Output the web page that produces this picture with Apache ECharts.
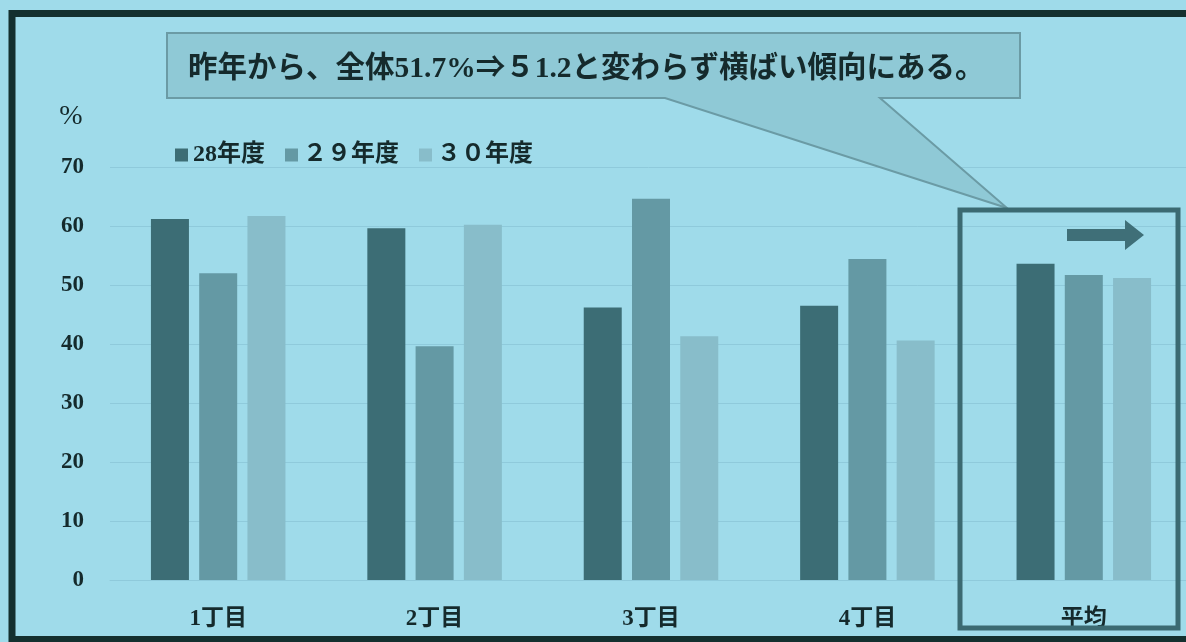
<!DOCTYPE html>
<html>
<head>
<meta charset="utf-8">
<script src="https://cdn.jsdelivr.net/npm/echarts@6/dist/echarts.min.js"></script>
<style>
html,body{margin:0;padding:0;background:#9fdbea;}
#chart{width:1186px;height:642px;}
</style>
</head>
<body>
<div id="chart"></div>
<script>
const categories = ['1丁目', '2丁目', '3丁目', '4丁目', '平均'];
const seriesNames = ['28年度', '２９年度', '３０年度'];
const values28 = [61.2, 59.6, 46.2, 46.5, 53.6];
const values29 = [52.0, 39.6, 64.6, 54.4, 51.7];
const values30 = [61.7, 60.2, 41.3, 40.6, 51.2];
const yTicks = { min: 0, max: 70, interval: 10 };
const calloutText = '昨年から、全体51.7%⇒５1.2と変わらず横ばい傾向にある。';

const FONT = "'Liberation Serif', 'Noto Sans CJK JP', serif";
const TXT = '#152a2c';
const colors = ['#3c6d75', '#6499a4', '#88bdca'];

const chart = echarts.init(document.getElementById('chart'));
chart.setOption({
  backgroundColor: '#9fdbea',
  animation: false,
  color: colors,
  textStyle: { fontFamily: FONT, color: TXT },
  grid: { left: 110, top: 167, bottom: 62, width: 1082, outerBoundsMode: 'none', containLabel: false },
  legend: {
    data: seriesNames,
    left: 170, top: 138,
    icon: 'rect', itemWidth: 13, itemHeight: 13, itemGap: 20,
    textStyle: { fontFamily: FONT, fontSize: 24, fontWeight: 'bold', color: TXT }
  },
  xAxis: {
    type: 'category', data: categories,
    axisLine: { show: true, lineStyle: { color: '#8fcadb', width: 1 } },
    axisTick: { show: false },
    axisLabel: { margin: 28, fontFamily: FONT, fontSize: 23, fontWeight: 'bold', color: TXT }
  },
  yAxis: {
    type: 'value', min: yTicks.min, max: yTicks.max, interval: yTicks.interval,
    name: '%', nameLocation: 'end', nameGap: 36,
    nameTextStyle: { fontFamily: FONT, fontSize: 28, color: TXT, align: 'center', padding: [0, 78, 0, 0] },
    axisLine: { show: false }, axisTick: { show: false },
    axisLabel: { margin: 26, fontFamily: FONT, fontSize: 23, fontWeight: 'bold', color: TXT },
    splitLine: { lineStyle: { color: '#8fcadb', width: 1 } }
  },
  series: [
    { name: seriesNames[0], type: 'bar', data: values28, barWidth: 38, barGap: '27%' },
    { name: seriesNames[1], type: 'bar', data: values29, barWidth: 38, barGap: '27%' },
    { name: seriesNames[2], type: 'bar', data: values30, barWidth: 38, barGap: '27%' }
  ],
  graphic: [
    { type: 'rect', z: 1, silent: true,
      shape: { x: 12, y: 13.5, width: 1200, height: 626 },
      style: { fill: 'none', stroke: '#14302f', lineWidth: 7 } },
    { type: 'polygon', z: 20, silent: true,
      shape: { points: [[167,33],[1020,33],[1020,98],[880,98],[1007,208],[665,98],[167,98]] },
      style: { fill: '#8fc9d6', stroke: '#6b9ba5', lineWidth: 2 } },
    { type: 'text', z: 21, silent: true, left: 188, top: 55,
      style: { text: calloutText, fontFamily: FONT, fontSize: 29.5, fontWeight: 'bold', fill: TXT } },
    { type: 'rect', z: 20, silent: true,
      shape: { x: 960, y: 210, width: 218, height: 418 },
      style: { fill: 'none', stroke: '#3b6a72', lineWidth: 5 } },
    { type: 'polygon', z: 20, silent: true,
      shape: { points: [[1067,229],[1125,229],[1125,220],[1144,235],[1125,250],[1125,241],[1067,241]] },
      style: { fill: '#3f6f78' } }
  ]
});
</script>
</body>
</html>
